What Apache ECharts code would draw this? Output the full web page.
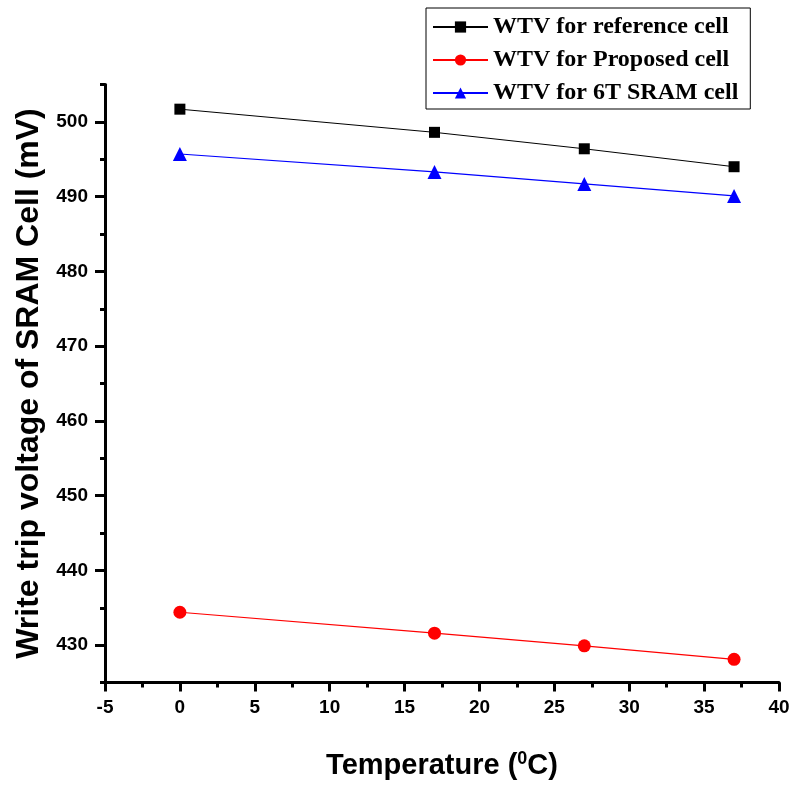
<!DOCTYPE html>
<html>
<head>
<meta charset="utf-8">
<script src="https://cdn.jsdelivr.net/npm/echarts@6/dist/echarts.min.js"></script>
<style>
  html, body { margin: 0; padding: 0; background: #fff; }
  #chart { width: 794px; height: 785px; }
</style>
</head>
<body>
<div id="chart"></div>
<script>
// Temperature (deg C) on x
const temperatures = [0, 17, 27, 37];

// write trip voltage, mV
const referenceCell = [501.7, 498.6, 496.4, 494.0];
const proposedCell = [434.4, 431.6, 429.9, 428.1];
const sramCell6T = [495.7, 493.3, 491.7, 490.1];

const seriesNames = ['WTV for reference cell', 'WTV for Proposed cell', 'WTV for 6T SRAM cell'];

const yMajorTicks = [430, 440, 450, 460, 470, 480, 490, 500];

const toPoints = ys => temperatures.map((t, i) => [t, ys[i]]);

const chart = echarts.init(document.getElementById('chart'));

const tickLabel = { color: '#000', fontFamily: 'Liberation Sans', fontWeight: 'bold', fontSize: 19 };
const blackLine = () => ({ color: '#000', width: 3 });

const option = {
    backgroundColor: '#fff',
    animation: false,
    grid: { left: 105, right: 15, top: 84.5, bottom: 100.5 },
    legend: {
        data: seriesNames,
        orient: 'vertical',
        left: 426,
        top: 8,
        padding: [7, 12, 4, 6],
        itemGap: 9,
        itemWidth: 55,
        itemHeight: 14,
        borderColor: '#000',
        borderWidth: 1,
        backgroundColor: '#fff',
        textStyle: { color: '#000', fontFamily: 'Liberation Serif', fontWeight: 'bold', fontSize: 24 }
    },
    xAxis: {
        type: 'value',
        min: -5,
        max: 40,
        interval: 5,
        name: 'Temperature ({sup|0}C)',
        nameLocation: 'middle',
        nameGap: 68,
        nameTextStyle: {
            color: '#000', fontFamily: 'Liberation Sans', fontWeight: 'bold', fontSize: 29,
            rich: { sup: { fontFamily: 'Liberation Sans', fontWeight: 'bold', fontSize: 18, verticalAlign: 'top', padding: [0, 0, 12, 0] } }
        },
        axisLine: { onZero: false, lineStyle: blackLine() },
        axisTick: { show: true, length: 9, lineStyle: blackLine() },
        minorTick: { show: true, splitNumber: 2, length: 5, lineStyle: blackLine() },
        axisLabel: Object.assign({ margin: 16 }, tickLabel),
        splitLine: { show: false }
    },
    yAxis: [{
        type: 'value',
        min: 425,
        max: 505,
        interval: 5,
        name: 'Write trip voltage of SRAM Cell (mV)',
        nameLocation: 'middle',
        nameGap: 58,
        nameTextStyle: { color: '#000', fontFamily: 'Liberation Sans', fontWeight: 'bold', fontSize: 32 },
        axisLine: { onZero: false, lineStyle: blackLine() },
        axisTick: { show: true, length: 5, lineStyle: blackLine() },
        axisLabel: Object.assign({
            margin: 17,
            formatter: v => (v % 10 === 0 ? String(v) : '')
        }, tickLabel),
        splitLine: { show: false }
    }, {
        // longer ticks at the labelled values
        type: 'value',
        position: 'left',
        min: 425,
        max: 505,
        axisLine: { show: false, onZero: false },
        axisTick: { show: true, customValues: yMajorTicks, length: 10, lineStyle: blackLine() },
        axisLabel: { show: false },
        splitLine: { show: false }
    }],
    series: [{
        name: seriesNames[0],
        type: 'line',
        data: toPoints(referenceCell),
        symbol: 'rect',
        symbolSize: 11,
        lineStyle: { color: '#000', width: 1 },
        itemStyle: { color: '#000' }
    }, {
        name: seriesNames[1],
        type: 'line',
        data: toPoints(proposedCell),
        symbol: 'circle',
        symbolSize: 13,
        lineStyle: { color: '#ff0000', width: 1.2 },
        itemStyle: { color: '#ff0000' }
    }, {
        name: seriesNames[2],
        type: 'line',
        data: toPoints(sramCell6T),
        symbol: 'triangle',
        symbolSize: 14,
        lineStyle: { color: '#0000ff', width: 1.2 },
        itemStyle: { color: '#0000ff' }
    }]
};

chart.setOption(option);
</script>
</body>
</html>
